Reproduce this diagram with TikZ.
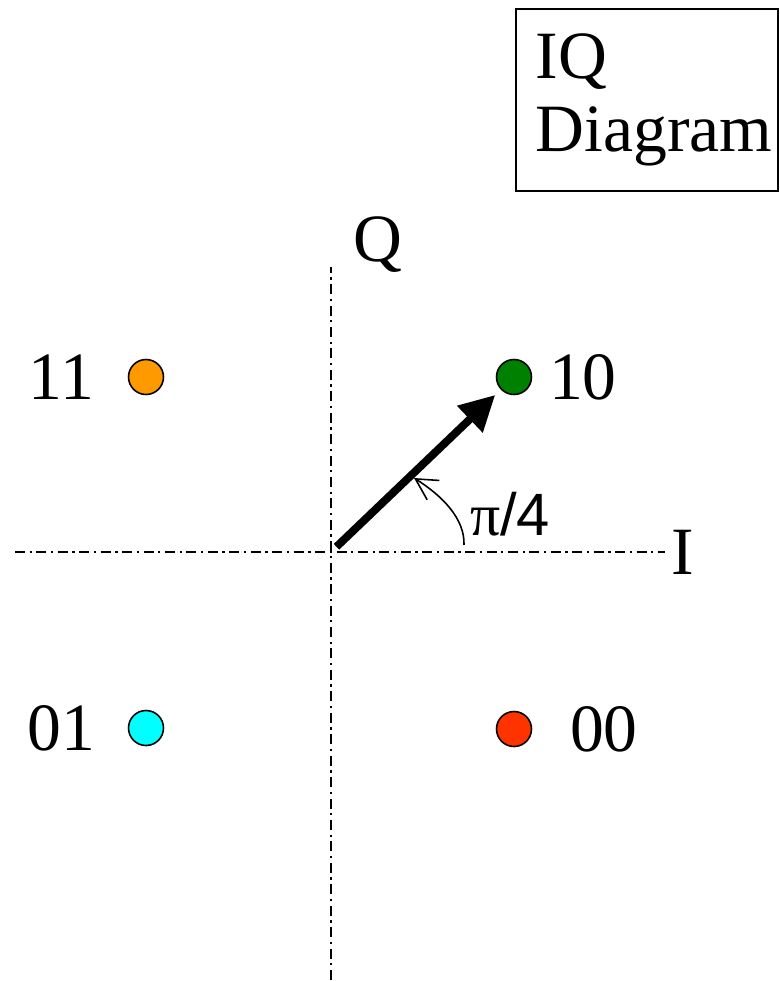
\documentclass[tikz,border=0pt]{standalone}
\usepackage{fontspec}
\setmainfont{Liberation Serif}
\newfontfamily\anglefont{Liberation Sans}
\usetikzlibrary{arrows.meta,positioning}
\definecolor{dotorange}{RGB}{255,153,0}
\definecolor{dotgreen}{RGB}{0,128,0}
\definecolor{dotcyan}{RGB}{0,255,255}
\definecolor{dotred}{RGB}{255,51,0}
\tikzset{
  iqaxis/.style={
    line width=0.9pt,
    dash pattern=on 5.7pt off 2.6pt on 1.3pt off 2.6pt
  },
  constpt/.style={
    circle,
    draw=black,
    line width=0.9pt,
    minimum size=0.7cm,
    inner sep=0pt
  },
  lbl/.style={font=\rmfamily\fontsize{38.5}{42}\selectfont, inner sep=2pt},
  titlebox/.style={
    draw=black,
    line width=1pt,
    align=left,
    text width=4.44cm,
    inner xsep=0.4cm,
    minimum height=3.64cm,
    font=\rmfamily\fontsize{38.5}{42}\selectfont
  },
  phasor/.style={-{Triangle[length=20pt,width=20pt]}, line width=4.5pt},
  anglearc/.style={-{Straight Barb[length=12pt,width=13pt]}, line width=0.9pt}
}

\begin{document}
\begin{tikzpicture}[x=0.02cm, y=-0.02cm, node distance=0.6cm]
        \useasboundingbox (0,0) rectangle (779,981);
        % axes
        \coordinate (o) at (331,552);
        \coordinate (ibeg) at (15,552);
        \coordinate (iend) at (665,552);
        \coordinate (qend) at (331,267);
        \coordinate (qbeg) at (331,980);
        \draw[iqaxis] (ibeg) -- (iend);
        \draw[iqaxis] (qbeg) -- (qend);
        \node[lbl, anchor=west, xshift=0.05cm] (ilab) at (iend) {I};
        \node[lbl, anchor=base west, xshift=0.38cm, yshift=0.12cm] (qlab) at (qend) {Q};
        % constellation points
        \node[constpt, fill=dotorange] (s11) at (146,377) {};
        \node[constpt, fill=dotgreen] (s10) at (514,377) {};
        \node[constpt, fill=dotcyan] (s01) at (146,728) {};
        \node[constpt, fill=dotred] (s00) at (514,729) {};
        \node[lbl, left=of s11] (l11) {11};
        \node[lbl, right=0.26cm of s10] (l10) {10};
        \node[lbl, left=0.57cm of s01] (l01) {01};
        \node[lbl, right=0.68cm of s00] (l00) {00};
        % phasor and angle
        \draw[phasor, shorten <=4.3pt, shorten >=4.4pt] (o) -- (s10);
        \coordinate (arcstart) at (464,545);
        \coordinate (arcend) at (414,478);
        \draw[anglearc] (arcstart) .. controls (465,518) and (441,495) .. (arcend);
        \node[font=\fontsize{34}{36}\selectfont, inner sep=0pt] (pilab) at (510,514) {π\anglefont/4};
        % title
        \node[titlebox, anchor=north west] (title) at (515,8) {IQ\\\mbox{Diagram}};
      \end{tikzpicture}
\end{document}
